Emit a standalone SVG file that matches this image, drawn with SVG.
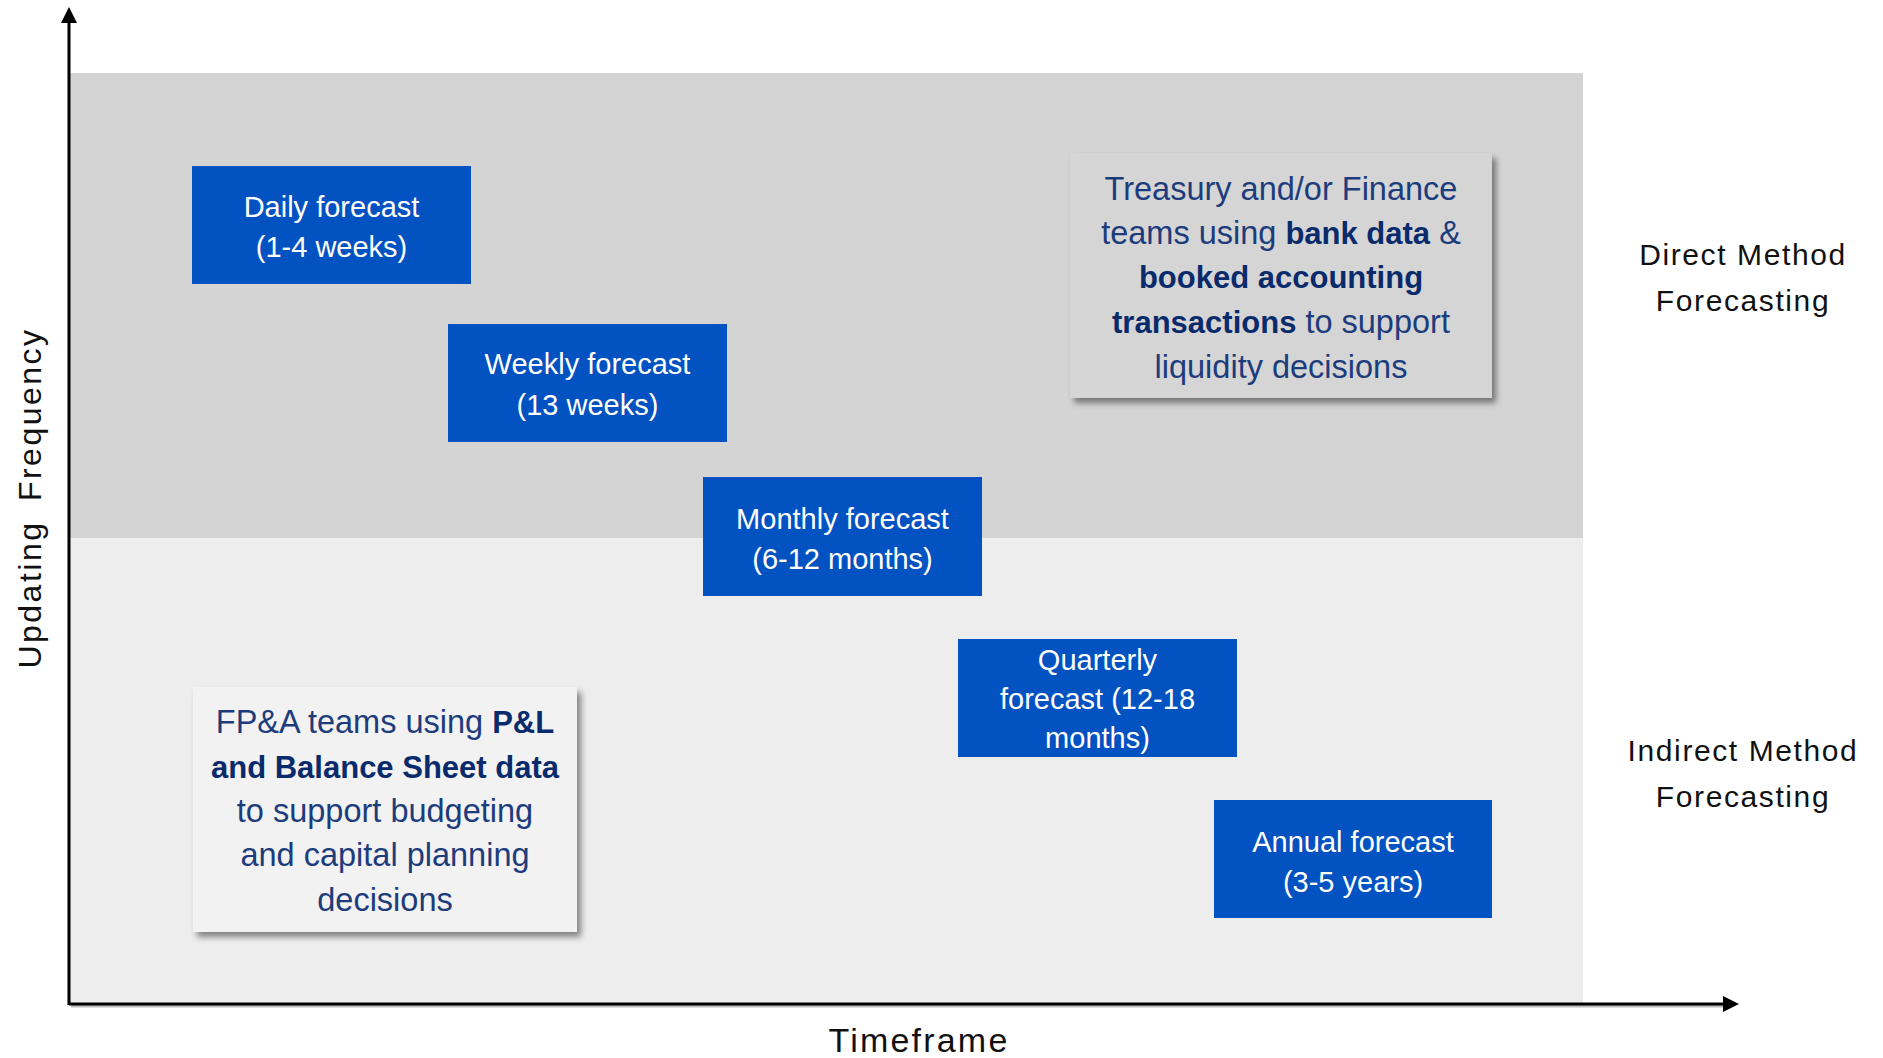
<svg xmlns="http://www.w3.org/2000/svg" width="1883" height="1058" viewBox="0 0 1883 1058">
<style>
  text { font-family: "Liberation Sans", Arial, sans-serif; }
  .box { fill: #0352C1; }
  .boxt { fill: #FFFFFF; font-size: 29px; text-anchor: middle; }
  .call { font-size: 32.5px; fill: #1D3C7C; text-anchor: middle; }
  .b { font-weight: bold; font-size: 31px; fill: #0A2B6B; }
  .side { font-size: 30px; fill: #111111; text-anchor: middle; letter-spacing: 1.6px; }
  .axis { stroke: #000; stroke-width: 3; fill: none; }
  .axshadow { stroke: #8c8c8c; stroke-width: 3; fill: none; opacity: 0.6; }
</style>
<defs>
  <marker id="arrow" viewBox="0 0 16 16" refX="0" refY="8" markerWidth="16" markerHeight="16" markerUnits="userSpaceOnUse" orient="auto">
    <path d="M0,0 L16,8 L0,16 Z" fill="#000"/>
  </marker>
  <filter id="shadow" x="-10%" y="-10%" width="125%" height="130%">
    <feDropShadow dx="4" dy="5" stdDeviation="3" flood-color="#000" flood-opacity="0.45"/>
  </filter>
</defs>
<rect width="1883" height="1058" fill="#FFFFFF"/>
<g id="bands">
  <rect x="70" y="73" width="1513" height="465" fill="#D4D4D4"/>
  <rect x="70" y="538" width="1513" height="465" fill="#EDEDED"/>
</g>
<g id="connectors">
  <line class="axshadow" x1="71" y1="1006" x2="1723" y2="1006"/>
  <line class="axis" x1="69" y1="1004" x2="1723" y2="1004" marker-end="url(#arrow)"/>
  <line class="axis" x1="69" y1="1005" x2="69" y2="23" marker-end="url(#arrow)"/>
</g>
<g id="daily">
  <rect class="box" x="192" y="166" width="279" height="118"/>
  <text class="boxt" x="331.5" y="217">Daily forecast</text>
  <text class="boxt" x="331.5" y="257">(1-4 weeks)</text>
</g>
<g id="weekly">
  <rect class="box" x="448" y="324" width="279" height="118"/>
  <text class="boxt" x="587.5" y="374">Weekly forecast</text>
  <text class="boxt" x="587.5" y="415">(13 weeks)</text>
</g>
<g id="monthly">
  <rect class="box" x="703" y="477" width="279" height="119"/>
  <text class="boxt" x="842.5" y="529">Monthly forecast</text>
  <text class="boxt" x="842.5" y="569">(6-12 months)</text>
</g>
<g id="quarterly">
  <rect class="box" x="958" y="639" width="279" height="118"/>
  <text class="boxt" x="1097.5" y="670">Quarterly</text>
  <text class="boxt" x="1097.5" y="709">forecast (12-18</text>
  <text class="boxt" x="1097.5" y="748">months)</text>
</g>
<g id="annual">
  <rect class="box" x="1214" y="800" width="278" height="118"/>
  <text class="boxt" x="1353" y="852">Annual forecast</text>
  <text class="boxt" x="1353" y="892">(3-5 years)</text>
</g>
<g id="direct-callout">
  <rect x="1070" y="153" width="422" height="245" fill="#D5D5D5" filter="url(#shadow)"/>
  <text class="call" x="1281" y="200">Treasury and/or Finance</text>
  <text class="call" x="1281" y="244">teams using <tspan class="b">bank data</tspan> &amp;</text>
  <text class="call" x="1281" y="288"><tspan class="b">booked accounting</tspan></text>
  <text class="call" x="1281" y="333"><tspan class="b">transactions</tspan> to support</text>
  <text class="call" x="1281" y="378">liquidity decisions</text>
</g>
<g id="indirect-callout">
  <rect x="193" y="687" width="384" height="245" fill="#F2F2F2" filter="url(#shadow)"/>
  <text class="call" x="385" y="733">FP&amp;A teams using <tspan class="b">P&amp;L</tspan></text>
  <text class="call" x="385" y="778"><tspan class="b">and Balance Sheet data</tspan></text>
  <text class="call" x="385" y="822">to support budgeting</text>
  <text class="call" x="385" y="866">and capital planning</text>
  <text class="call" x="385" y="911">decisions</text>
</g>
<g id="direct-label">
  <text class="side" x="1743" y="265">Direct Method</text>
  <text class="side" x="1743" y="311">Forecasting</text>
</g>
<g id="indirect-label">
  <text class="side" x="1743" y="761">Indirect Method</text>
  <text class="side" x="1743" y="807">Forecasting</text>
</g>
<g id="y-label">
  <text x="41" y="498" transform="rotate(-90 41 498)" font-size="32" fill="#111" text-anchor="middle" letter-spacing="2.5" word-spacing="8">Updating Frequency</text>
</g>
<g id="x-label">
  <text x="919" y="1052" font-size="34" fill="#111" text-anchor="middle" letter-spacing="2.2">Timeframe</text>
</g>
</svg>
